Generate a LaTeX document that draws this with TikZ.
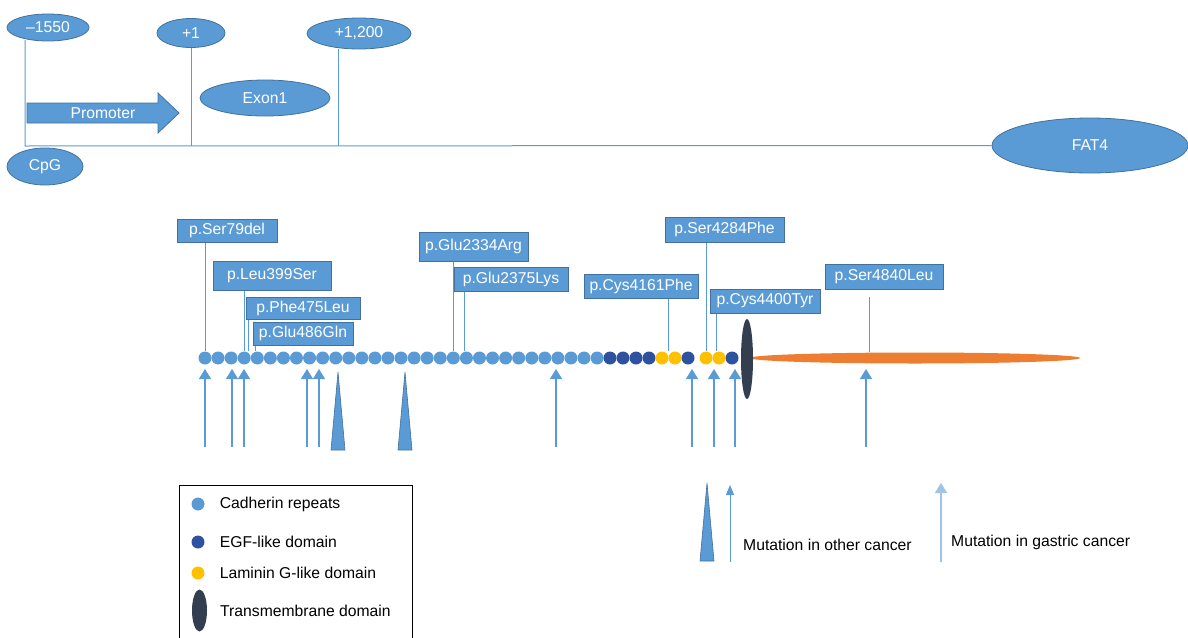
\documentclass[tikz,border=0pt]{standalone}
\usepackage{fontspec}
\setmainfont{Liberation Sans}
\usetikzlibrary{shapes.geometric,arrows.meta,calc,positioning}

\definecolor{cadblue}{HTML}{5B9BD5}
\definecolor{edgeblue}{HTML}{41719C}
\definecolor{egfblue}{HTML}{2F52A0}
\definecolor{lamyellow}{HTML}{FFC000}
\definecolor{tmgray}{HTML}{333F50}
\definecolor{ecdorange}{HTML}{ED7D31}
\definecolor{gastblue}{HTML}{9DC3E6}

\tikzset{
  posoval/.style={ellipse, fill=cadblue, draw=edgeblue, line width=0.8pt, text=white, inner sep=0pt},
  mutbox/.style={rectangle, fill=cadblue, draw=edgeblue, line width=1pt, text=white, inner sep=0pt, minimum height=24pt},
  domdot/.style={circle, inner sep=0pt, minimum size=13pt},
  stem/.style={cadblue, line width=1pt},
  mutarrow/.style={cadblue, line width=1.2pt, -{Triangle[width=12pt,length=10pt]}},
  spike/.style={fill=cadblue, draw=edgeblue, line width=0.6pt},
  keytext/.style={inner sep=0pt, right=15pt of #1}
}

\begin{document}
\begin{tikzpicture}[x=1pt,y=-1pt,font=\fontsize{15.7}{18}\selectfont]
    \useasboundingbox (0,0) rectangle (1188,637);

    \node[posoval, minimum width=82pt, minimum height=27pt] (m1550) at (48,27.5) {\textendash1550};
    \node[posoval, minimum width=68pt, minimum height=29pt] (p1) at (191,33) {+1};
    \node[posoval, minimum width=104pt, minimum height=31pt] (p1200) at (359,33.5) {+1,200};
    \node[posoval, minimum width=130pt, minimum height=36pt] (exon) at (265,98) {Exon1};
    \node[posoval, minimum width=76pt, minimum height=37pt] (cpg) at (45,166.5) {CpG};
    \node[posoval, minimum width=196pt, minimum height=55pt] (fat4) at (1090,145.5) {FAT4};
    \coordinate (origin) at (25,146);
    \coordinate (ex1end) at (338,146);
    \draw[stem] (25,40) -- (origin) -- (fat4.west);
    \draw[stem] (p1.south) -- (p1.south |- origin);
    \draw[stem] (ex1end) -- (ex1end |- p1200.south);
    \filldraw[fill=cadblue, draw=edgeblue, line width=0.8pt] (27,103) -- (158,103) -- (158,93) -- (179,113)
        -- (158,133) -- (158,123) -- (27,123) -- cycle;
    \node[text=white] (promoter) at (103,113) {Promoter};

    \node[ellipse, fill=ecdorange, minimum width=330pt, minimum height=11pt, inner sep=0pt] (ecd) at (915,358) {};
    \node[ellipse, fill=tmgray, minimum width=12pt, minimum height=80pt, inner sep=0pt] (tm) at (747,359) {};
    \foreach \i in {1,...,31}
        \node[domdot, fill=cadblue] (d\i) at ({205+(\i-1)*13.07},358) {};
    \foreach \i/\x/\c in {32/610/egfblue,33/623/egfblue,34/636/egfblue,35/649/egfblue,36/662/lamyellow,
        37/675/lamyellow,38/688/egfblue,39/706/lamyellow,40/719/lamyellow,41/732/egfblue}
        \node[domdot, fill=\c] (d\i) at (\x,358) {};

    \node[mutbox, minimum width=100pt, minimum height=23pt] (s79) at (227,230.5) {p.Ser79del};
    \node[mutbox, minimum width=118pt, minimum height=29pt] (l399) at (272,275.5) {p.Leu399Ser};
    \node[mutbox, minimum width=114pt, minimum height=22pt] (f475) at (303,308) {p.Phe475Leu};
    \node[mutbox, minimum width=100pt, minimum height=23pt] (e486) at (303,333.5) {p.Glu486Gln};
    \node[mutbox, minimum width=109pt, minimum height=29pt] (e2334) at (473.5,246.5) {p.Glu2334Arg};
    \node[mutbox, minimum width=114pt] (e2375) at (511,279) {p.Glu2375Lys};
    \node[mutbox, minimum width=114pt] (c4161) at (641,286) {p.Cys4161Phe};
    \node[mutbox, minimum width=119pt, minimum height=25pt] (s4284) at (724.5,229.5) {p.Ser4284Phe};
    \node[mutbox, minimum width=110pt] (c4400) at (765,301) {p.Cys4400Tyr};
    \node[mutbox, minimum width=118pt, minimum height=25pt] (s4840) at (884,276.5) {p.Ser4840Leu};

    \coordinate (at475) at ($(d4.north)+(4,0)$);
    \coordinate (at486) at ($(d5.north)+(-2,0)$);
    \coordinate (at2375) at ($(d21.north)+(-2,0)$);
    \coordinate (at4161) at ($(d36.north)!0.5!(d37.north)$);
    \coordinate (at4400) at ($(d40.north)+(-3,0)$);
    \coordinate (at4840) at (869,297);
    \draw[stem] (s79.south -| d1) -- (d1.north);
    \draw[stem] (l399.south -| d4) -- (d4.north);
    \draw[stem] (f475.south -| at475) -- (at475);
    \draw[stem] (e486.south -| at486) -- (at486);
    \draw[stem] (e2334.south -| d20) -- (d20.north);
    \draw[stem] (e2375.south -| at2375) -- (at2375);
    \draw[stem] (c4161.south -| at4161) -- (at4161);
    \draw[stem] (s4284.south -| d39) -- (d39.north);
    \draw[stem] (c4400.south -| at4400) -- (at4400);
    \draw[stem] (at4840) -- (at4840 |- ecd.north);

    \foreach \x in {205,232,244,307,319,556,692,714,735,866} {
        \coordinate (a\x) at (\x,447);
        \draw[mutarrow] (a\x) -- ++(0,-78);
    }
    \filldraw[spike] (331,450) -- (338,372) -- (345,450) -- cycle;
    \filldraw[spike] (398,450) -- (405,372) -- (412,450) -- cycle;

    \draw[line width=1pt] (179,640) -- (179,485) -- (412,485) -- (412,640);
    \node[domdot, fill=cadblue] (k1) at (198,504) {};
    \node[domdot, fill=egfblue] (k2) at (198,542) {};
    \node[domdot, fill=lamyellow] (k3) at (198,573) {};
    \node[ellipse, fill=tmgray, minimum width=15pt, minimum height=42pt, inner sep=0pt] (k4) at (199.5,610.5) {};
    \node[keytext=k1] (k1txt) {Cadherin repeats};
    \node[keytext=k2] (k2txt) {EGF-like domain};
    \node[keytext=k3] (k3txt) {Laminin G-like domain};
    \node[inner sep=0pt, anchor=west] (k4txt) at (220,611) {Transmembrane domain};

    \filldraw[spike] (700,561) -- (707,483) -- (714,561) -- cycle;
    \coordinate (oth) at (730,562);
    \draw[cadblue, line width=1pt, -{Triangle[width=8pt,length=10pt]}] (oth) -- ++(0,-77);
    \node[inner sep=0pt, anchor=west] (othtxt) at (743,545) {Mutation in other cancer};
    \coordinate (gas) at (941,562);
    \draw[mutarrow, gastblue] (gas) -- ++(0,-79);
    \node[inner sep=0pt, anchor=west] (gastxt) at (951,542) {Mutation in gastric cancer};
\end{tikzpicture}
\end{document}
